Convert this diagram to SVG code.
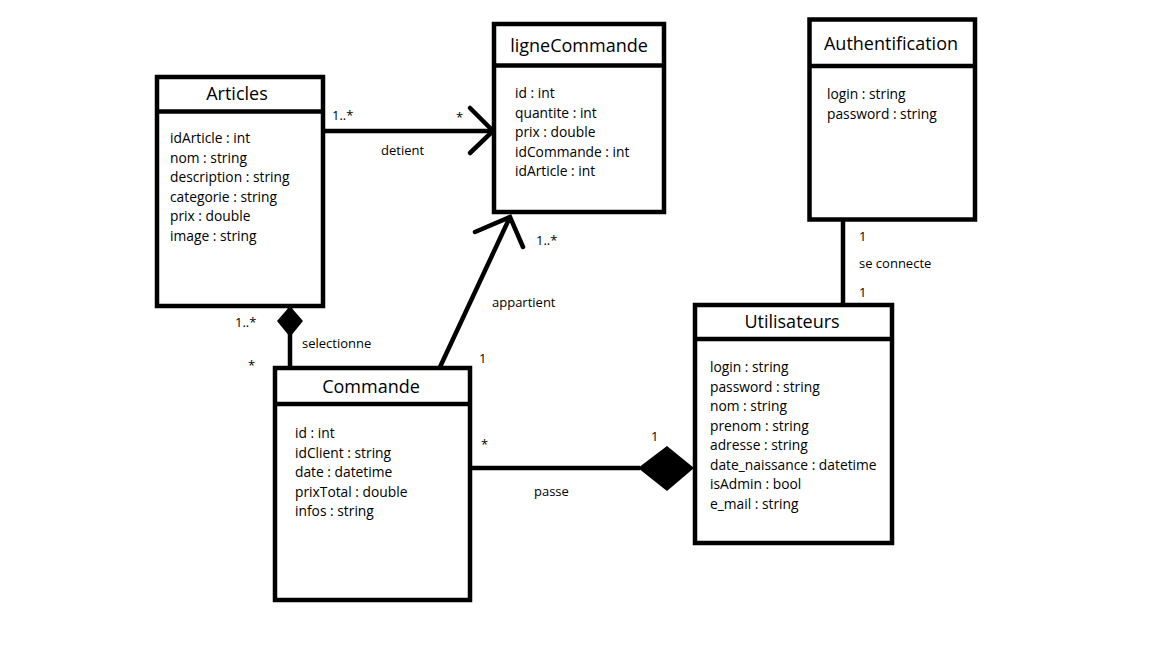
<svg xmlns="http://www.w3.org/2000/svg" width="1152" height="648" viewBox="0 0 1152 648">
<style>
.box{fill:#fff;stroke:#000;stroke-width:4.5}
.sep{stroke:#000;stroke-width:4.5}
.title{font-family:"Open Sans","Noto Sans",sans-serif;font-size:18px;text-anchor:middle;fill:#000}
.attr{font-family:"Open Sans","Noto Sans",sans-serif;font-size:13.8px;fill:#000}
.lbl{font-family:"Open Sans","Noto Sans",sans-serif;font-size:13px;fill:#000}
.ln{stroke:#000;stroke-width:4.5;fill:none}
.dia{fill:#000;stroke:none}
</style>
<rect width="1152" height="648" fill="#fff"/>
<g id="connectors">
  <line class="ln" x1="323" y1="131" x2="492" y2="131"/>
  <polyline class="ln" points="470,108 493,131 470,153" stroke-linecap="round"/>
  <line class="ln" x1="440" y1="367" x2="510" y2="217"/>
  <polyline class="ln" points="475,232 510,217 523,247" stroke-linecap="round"/>
  <line class="ln" x1="290" y1="306" x2="290" y2="368"/>
  <polygon class="dia" points="290,306 277,321 290,337 303,321"/>
  <line class="ln" x1="470" y1="468" x2="640" y2="468"/>
  <polygon class="dia" points="638,468 667,446 694,468 667,491"/>
  <line class="ln" x1="843" y1="219" x2="843" y2="305"/>
  <text class="lbl" x="332" y="120">1..*</text>
  <text class="lbl" x="456" y="122">*</text>
  <text class="lbl" x="381" y="155">detient</text>
  <text class="lbl" x="536" y="245">1..*</text>
  <text class="lbl" x="492" y="307">appartient</text>
  <text class="lbl" x="479" y="363">1</text>
  <text class="lbl" x="235" y="327">1..*</text>
  <text class="lbl" x="248" y="370">*</text>
  <text class="lbl" x="302" y="348">selectionne</text>
  <text class="lbl" x="481" y="449">*</text>
  <text class="lbl" x="651" y="441">1</text>
  <text class="lbl" x="534" y="496">passe</text>
  <text class="lbl" x="859" y="241">1</text>
  <text class="lbl" x="859" y="268">se connecte</text>
  <text class="lbl" x="859" y="297">1</text>
</g>
<g id="articles">
  <rect class="box" x="157" y="77" width="166" height="229"/>
  <line class="sep" x1="157" y1="111.5" x2="323" y2="111.5"/>
  <text class="title" x="237" y="100">Articles</text>
  <text class="attr" x="170" y="143">idArticle : int</text>
  <text class="attr" x="170" y="162.5">nom : string</text>
  <text class="attr" x="170" y="182">description : string</text>
  <text class="attr" x="170" y="201.5">categorie : string</text>
  <text class="attr" x="170" y="221">prix : double</text>
  <text class="attr" x="170" y="240.5">image : string</text>
</g>
<g id="ligneCommande">
  <rect class="box" x="494" y="24" width="170" height="188"/>
  <line class="sep" x1="494" y1="65.5" x2="664" y2="65.5"/>
  <text class="title" x="579" y="52">ligneCommande</text>
  <text class="attr" x="515" y="98">id : int</text>
  <text class="attr" x="515" y="117.5">quantite : int</text>
  <text class="attr" x="515" y="137">prix : double</text>
  <text class="attr" x="515" y="156.5">idCommande : int</text>
  <text class="attr" x="515" y="176">idArticle : int</text>
</g>
<g id="commande">
  <rect class="box" x="275" y="368" width="195" height="232"/>
  <line class="sep" x1="275" y1="404" x2="470" y2="404"/>
  <text class="title" x="371" y="393">Commande</text>
  <text class="attr" x="295" y="438">id : int</text>
  <text class="attr" x="295" y="457.5">idClient : string</text>
  <text class="attr" x="295" y="477">date : datetime</text>
  <text class="attr" x="295" y="496.5">prixTotal : double</text>
  <text class="attr" x="295" y="516">infos : string</text>
</g>
<g id="utilisateurs">
  <rect class="box" x="695" y="305" width="197" height="238"/>
  <line class="sep" x1="695" y1="339" x2="892" y2="339"/>
  <text class="title" x="792" y="328">Utilisateurs</text>
  <text class="attr" x="710" y="372">login : string</text>
  <text class="attr" x="710" y="391.5">password : string</text>
  <text class="attr" x="710" y="411">nom : string</text>
  <text class="attr" x="710" y="430.5">prenom : string</text>
  <text class="attr" x="710" y="450">adresse : string</text>
  <text class="attr" x="710" y="469.5">date_naissance : datetime</text>
  <text class="attr" x="710" y="489">isAdmin : bool</text>
  <text class="attr" x="710" y="508.5">e_mail : string</text>
</g>
<g id="authentification">
  <rect class="box" x="809.5" y="19.5" width="165.5" height="200"/>
  <line class="sep" x1="809.5" y1="66" x2="975" y2="66"/>
  <text class="title" x="891" y="50">Authentification</text>
  <text class="attr" x="827" y="99">login : string</text>
  <text class="attr" x="827" y="118.5">password : string</text>
</g>
</svg>
